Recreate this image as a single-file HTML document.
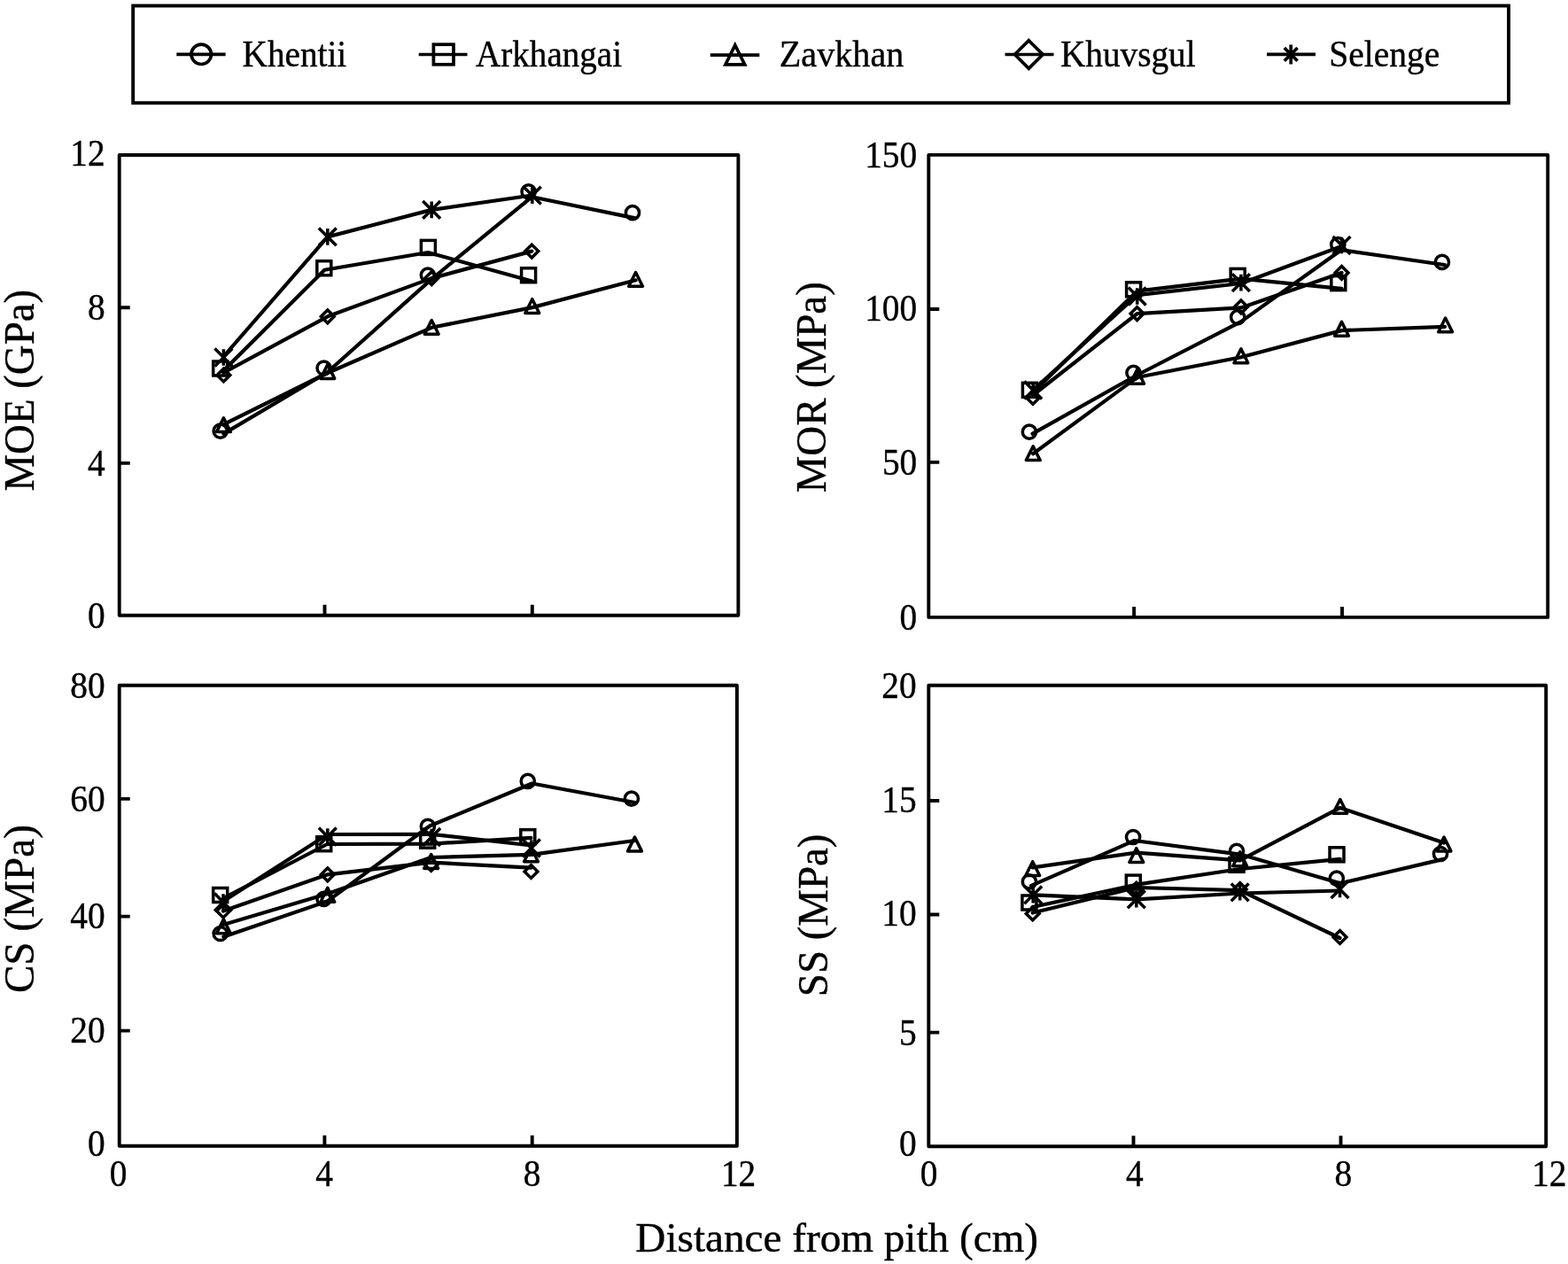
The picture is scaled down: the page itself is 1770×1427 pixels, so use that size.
<!DOCTYPE html>
<html lang="en"><head><meta charset="utf-8"><title>Mechanical properties vs distance from pith</title>
<style>
html,body{margin:0;padding:0;background:#fff;}
body{width:1770px;height:1427px;overflow:hidden;}
svg{display:block;font-family:"Liberation Serif","DejaVu Serif",serif;fill:#000;}
text{stroke:#000;stroke-width:0.4px;stroke-linejoin:round;}
.tl{font-size:42.3px;}
.lt{font-size:42.3px;}
.ax{font-size:47.8px;}
.ti{font-size:46.5px;}
.fr{fill:none;stroke:#000;stroke-width:3.9;stroke-linejoin:round;}
.ln{fill:none;stroke:#000;stroke-width:4.2;stroke-linejoin:round;stroke-linecap:round;}
.mk{fill:none;stroke:#000;stroke-width:3.5;stroke-linejoin:miter;}
.lb{fill:none;stroke:#000;stroke-width:3.9;stroke-linejoin:miter;}
.rj{stroke-linejoin:round;}
.lg{fill:none;stroke:#000;stroke-width:3.7;}
.lm{fill:none;stroke:#000;stroke-width:3.7;stroke-linejoin:miter;}
</style></head><body>
<svg width="1770" height="1427" viewBox="0 0 1770 1427" role="img" aria-label="Mechanical properties versus distance from pith for five provenances">
<rect width="1770" height="1427" fill="#fff"/>
<rect class="lb" x="150.2" y="6.5" width="1552.8" height="109.7"/>
<path class="lg" d="M199.3 61.3H254.6"/>
<g class="lm">
<circle cx="227.2" cy="61.3" r="11.2"/>
</g>
<text class="lt" transform="translate(273.6 74.9) scale(0.927 1)">Khentii</text>
<path class="lg" d="M472.7 61.5H527.5"/>
<g class="lm">
<rect x="489.4" y="50.2" width="22.6" height="22.6"/>
</g>
<text class="lt" transform="translate(537 74.9) scale(0.925 1)">Arkhangai</text>
<path class="lg" d="M801.8 62.1H857.3"/>
<g class="lm">
<path d="M829.8 51L840.7 72.8L818.9 72.8Z"/>
</g>
<text class="lt" transform="translate(879.8 74.9) scale(0.95 1)">Zavkhan</text>
<path class="lg" d="M1134.5 61.5H1189.5"/>
<g class="lm">
<path d="M1161.3 45.7L1177.1 61.5L1161.3 77.3L1145.5 61.5Z"/>
</g>
<text class="lt" transform="translate(1197 74.9) scale(0.928 1)">Khuvsgul</text>
<path class="lg" d="M1430 61.4H1485"/>
<g class="lm">
<path d="M1457.2 50.4V72.4M1449.8 54L1464.6 68.8M1449.8 68.8L1464.6 54"/>
</g>
<text class="lt" transform="translate(1500.3 74.9) scale(0.933 1)">Selenge</text>
<rect class="fr" x="134.7" y="175" width="698.7" height="519.7"/>
<path class="fr" d="M366.5 694.7V682.7M600.8 694.7V682.7M134.7 347.3H146.7M134.7 522.9H146.7"/>
<rect class="fr" x="1048.3" y="174.9" width="698.9" height="522"/>
<path class="fr" d="M1280.1 696.9V684.9M1515 696.9V684.9M1048.3 349H1060.3M1048.3 521.9H1060.3"/>
<rect class="fr" x="134.7" y="773.7" width="697.2" height="520"/>
<path class="fr" d="M366.4 1293.7V1281.7M600.7 1293.7V1281.7M134.7 901.9H146.7M134.7 1034.6H146.7M134.7 1163.6H146.7"/>
<rect class="fr" x="1048.3" y="773.7" width="696.9" height="520.5"/>
<path class="fr" d="M1279.5 1294.2V1282.2M1513.5 1294.2V1282.2M1048.3 904H1060.3M1048.3 1032.5H1060.3M1048.3 1165.6H1060.3"/>
<text class="tl" transform="translate(118.6 186.8) scale(0.93 1)" text-anchor="end">12</text>
<text class="tl" transform="translate(118.6 360.9) scale(0.93 1)" text-anchor="end">8</text>
<text class="tl" transform="translate(118.6 536.5) scale(0.93 1)" text-anchor="end">4</text>
<text class="tl" transform="translate(118.6 709.1) scale(0.93 1)" text-anchor="end">0</text>
<text class="tl" transform="translate(1035.2 189.1) scale(0.93 1)" text-anchor="end">150</text>
<text class="tl" transform="translate(1035.2 362) scale(0.93 1)" text-anchor="end">100</text>
<text class="tl" transform="translate(1035.2 536.1) scale(0.93 1)" text-anchor="end">50</text>
<text class="tl" transform="translate(1035.2 711.1) scale(0.93 1)" text-anchor="end">0</text>
<text class="tl" transform="translate(118.6 787.6) scale(0.93 1)" text-anchor="end">80</text>
<text class="tl" transform="translate(118.6 916.1) scale(0.93 1)" text-anchor="end">60</text>
<text class="tl" transform="translate(118.6 1047.6) scale(0.93 1)" text-anchor="end">40</text>
<text class="tl" transform="translate(118.6 1177.1) scale(0.93 1)" text-anchor="end">20</text>
<text class="tl" transform="translate(118.6 1305.1) scale(0.93 1)" text-anchor="end">0</text>
<text class="tl" transform="translate(1034.6 787.6) scale(0.93 1)" text-anchor="end">20</text>
<text class="tl" transform="translate(1034.6 916.6) scale(0.93 1)" text-anchor="end">15</text>
<text class="tl" transform="translate(1034.6 1045.3) scale(0.93 1)" text-anchor="end">10</text>
<text class="tl" transform="translate(1034.6 1180.2) scale(0.93 1)" text-anchor="end">5</text>
<text class="tl" transform="translate(1034.6 1305.1) scale(0.93 1)" text-anchor="end">0</text>
<text class="tl" transform="translate(133.5 1339.2) scale(0.93 1)" text-anchor="middle">0</text>
<text class="tl" transform="translate(366 1339.2) scale(0.93 1)" text-anchor="middle">4</text>
<text class="tl" transform="translate(600.5 1339.2) scale(0.93 1)" text-anchor="middle">8</text>
<text class="tl" transform="translate(833.6 1339.2) scale(0.93 1)" text-anchor="middle">12</text>
<text class="tl" transform="translate(1048.5 1339.2) scale(0.93 1)" text-anchor="middle">0</text>
<text class="tl" transform="translate(1280.8 1339.2) scale(0.93 1)" text-anchor="middle">4</text>
<text class="tl" transform="translate(1516.4 1339.2) scale(0.93 1)" text-anchor="middle">8</text>
<text class="tl" transform="translate(1748.8 1339.2) scale(0.93 1)" text-anchor="middle">12</text>
<text class="ti" transform="translate(944.7 1413.1) scale(1.015 1)" text-anchor="middle">Distance from pith (cm)</text>
<text class="ax" transform="translate(38.2 440.7) rotate(-90) scale(0.98 1)" text-anchor="middle">MOE (GPa)</text>
<text class="ax" transform="translate(932 437.3) rotate(-90) scale(0.98 1)" text-anchor="middle">MOR (MPa)</text>
<text class="ax" transform="translate(38.2 1026.1) rotate(-90) scale(0.987 1)" text-anchor="middle">CS (MPa)</text>
<text class="ax" transform="translate(933.6 1033.4) rotate(-90) scale(0.98 1)" text-anchor="middle">SS (MPa)</text>
<polyline class="ln" points="252.4,489.7 369.3,420.5 486.6,315.6 600.3,222.3 717.3,246.4"/>
<g class="mk">
<circle cx="248.7" cy="486.7" r="7.6"/>
<circle cx="365.6" cy="415.5" r="7.6"/>
<circle cx="482.9" cy="310.6" r="7.6"/>
<circle cx="596.6" cy="216.4" r="7.6"/>
<circle cx="714" cy="240.2" r="7.6"/>
</g>
<polyline class="ln" points="251.5,419.2 366.3,304.7 483.1,285 600.8,317.4"/>
<g class="mk">
<rect x="240.7" y="408" width="16" height="16"/>
<rect x="357.8" y="294.7" width="16" height="16"/>
<rect x="475.4" y="271.4" width="16" height="16"/>
<rect x="588.6" y="302.7" width="16" height="16"/>
</g>
<polyline class="ln" points="252.4,479.2 369.8,421 487.2,369.8 600.8,347.1 717.6,316.3"/>
<g class="mk">
<path class="rj" d="M252.4 471.8L260.3 487.6L244.5 487.6Z"/>
<path class="rj" d="M369.8 411.6L377.7 427.4L361.9 427.4Z"/>
<path class="rj" d="M487.2 361.5L495.1 377.3L479.3 377.3Z"/>
<path class="rj" d="M600.8 337.7L608.7 353.5L592.9 353.5Z"/>
<path class="rj" d="M717.6 307.5L725.5 323.3L709.7 323.3Z"/>
</g>
<polyline class="ln" points="252.4,420.8 369.8,357.3 487.2,314.1 600.3,283.6"/>
<g class="mk">
<path d="M252.4 416.1L259.8 423.5L252.4 430.9L245 423.5Z"/>
<path d="M369.8 349.9L377.2 357.3L369.8 364.7L362.4 357.3Z"/>
<path d="M487.2 306.7L494.6 314.1L487.2 321.5L479.8 314.1Z"/>
<path d="M600.3 276.2L607.7 283.6L600.3 291L592.9 283.6Z"/>
</g>
<polyline class="ln" points="252.4,402.5 369.8,267.4 487.2,236.9 600.8,220.5"/>
<g class="mk">
<path d="M252.4 394.2V412.8M242.5 393.6L262.3 413.4M242.5 413.4L262.3 393.6"/>
<path d="M369.8 258.1V276.7M359.9 257.5L379.7 277.3M359.9 277.3L379.7 257.5"/>
<path d="M487.2 227.6V246.2M477.3 227L497.1 246.8M477.3 246.8L497.1 227"/>
<path d="M600.8 211.3V229.9M590.9 210.7L610.7 230.5M590.9 230.5L610.7 210.7"/>
</g>
<polyline class="ln" points="1165.6,489.7 1283.5,423.5 1400.9,363.1 1514,282.2 1630.7,299"/>
<g class="mk">
<circle cx="1161.9" cy="487.7" r="7.6"/>
<circle cx="1279.5" cy="420.8" r="7.6"/>
<circle cx="1397.2" cy="358.1" r="7.6"/>
<circle cx="1510.3" cy="276.2" r="7.6"/>
<circle cx="1627.9" cy="295.9" r="7.6"/>
</g>
<polyline class="ln" points="1166.1,443 1283.5,328.7 1400.9,314.7 1514.5,325.9"/>
<g class="mk">
<rect x="1154.4" y="432.3" width="16" height="16"/>
<rect x="1271.6" y="318.8" width="16" height="16"/>
<rect x="1389.2" y="303.4" width="16" height="16"/>
<rect x="1502.8" y="311.6" width="16" height="16"/>
</g>
<polyline class="ln" points="1166.2,512.2 1283.6,426 1400.9,403.3 1514.5,373.1 1631,368.8"/>
<g class="mk">
<path class="rj" d="M1166.2 503.8L1174.1 519.6L1158.3 519.6Z"/>
<path class="rj" d="M1283.6 417.4L1291.5 433.2L1275.7 433.2Z"/>
<path class="rj" d="M1400.9 393.9L1408.8 409.7L1393 409.7Z"/>
<path class="rj" d="M1514.5 363.4L1522.4 379.2L1506.6 379.2Z"/>
<path class="rj" d="M1631.6 359L1639.5 374.8L1623.7 374.8Z"/>
</g>
<polyline class="ln" points="1166.2,446 1283.6,354.1 1400.9,347.4 1514.5,307.9"/>
<g class="mk">
<path d="M1166 441.5L1173.4 448.9L1166 456.3L1158.6 448.9Z"/>
<path d="M1283.6 346.7L1291 354.1L1283.6 361.5L1276.2 354.1Z"/>
<path d="M1400.9 339L1408.3 346.4L1400.9 353.8L1393.5 346.4Z"/>
<path d="M1514.5 300.5L1521.9 307.9L1514.5 315.3L1507.1 307.9Z"/>
</g>
<polyline class="ln" points="1166.2,440.5 1283.5,333.2 1400.9,320 1514.5,278"/>
<g class="mk">
<path d="M1166.2 431.2V449.8M1156.3 430.6L1176.1 450.4M1156.3 450.4L1176.1 430.6"/>
<path d="M1283.7 325.2V343.8M1273.8 324.6L1293.6 344.4M1273.8 344.4L1293.6 324.6"/>
<path d="M1400.9 309.8V328.4M1391 309.2L1410.8 329M1391 329L1410.8 309.2"/>
<path d="M1514.5 267.7V286.3M1504.6 267.1L1524.4 286.9M1504.6 286.9L1524.4 267.1"/>
</g>
<polyline class="ln" points="252.4,1057.5 369.3,1017.6 485,932.5 600.5,884.5 716.7,906"/>
<g class="mk">
<circle cx="248.7" cy="1054" r="7.6"/>
<circle cx="365.6" cy="1014.8" r="7.6"/>
<circle cx="482.9" cy="932.9" r="7.6"/>
<circle cx="595.8" cy="881.9" r="7.6"/>
<circle cx="712.9" cy="901.7" r="7.6"/>
</g>
<polyline class="ln" points="252.4,1014 369.3,953 486.6,952.6 599.5,945.9"/>
<g class="mk">
<rect x="240.7" y="1002.5" width="16" height="16"/>
<rect x="357.7" y="944.7" width="16" height="16"/>
<rect x="474.7" y="941.2" width="16" height="16"/>
<rect x="587.8" y="936.7" width="16" height="16"/>
</g>
<polyline class="ln" points="252.4,1043.8 369.8,1009 486.5,968 599.5,964.9 716.5,949"/>
<g class="mk">
<path class="rj" d="M252.4 1037.9L260.3 1053.7L244.5 1053.7Z"/>
<path class="rj" d="M369.8 1002.4L377.7 1018.2L361.9 1018.2Z"/>
<path class="rj" d="M486.7 964.6L494.6 980.4L478.8 980.4Z"/>
<path class="rj" d="M599.5 957L607.4 972.8L591.6 972.8Z"/>
<path class="rj" d="M716.5 945.1L724.4 960.9L708.6 960.9Z"/>
</g>
<polyline class="ln" points="252,1028.5 369.8,987.3 486.7,973.7 599.5,979.6"/>
<g class="mk">
<path d="M252 1021.1L259.4 1028.5L252 1035.9L244.6 1028.5Z"/>
<path d="M369.8 979.9L377.2 987.3L369.8 994.7L362.4 987.3Z"/>
<path d="M486.7 968.6L494.1 976L486.7 983.4L479.3 976Z"/>
<path d="M599.5 976.6L606.9 984L599.5 991.4L592.1 984Z"/>
</g>
<polyline class="ln" points="252,1017.5 369.8,942 487.2,941.8 600.3,954.5"/>
<g class="mk">
<path d="M252 1009.2V1027.8M242.1 1008.6L261.9 1028.4M242.1 1028.4L261.9 1008.6"/>
<path d="M369.8 935.2V953.8M359.9 934.6L379.7 954.4M359.9 954.4L379.7 934.6"/>
<path d="M487.2 935.7V954.3M477.3 935.1L497.1 954.9M477.3 954.9L497.1 935.1"/>
<path d="M599.8 948.2V966.8M589.9 947.6L609.7 967.4M589.9 967.4L609.7 947.6"/>
</g>
<polyline class="ln" points="1164,999.8 1280.5,949 1400.1,964.6 1513.2,997.2 1629.7,969.9"/>
<g class="mk">
<circle cx="1161.9" cy="995.4" r="7.6"/>
<circle cx="1279.1" cy="945" r="7.6"/>
<circle cx="1396" cy="960.8" r="7.6"/>
<circle cx="1508.8" cy="991.6" r="7.6"/>
<circle cx="1626" cy="964" r="7.6"/>
</g>
<polyline class="ln" points="1165.6,1024 1283,998.7 1400.1,981 1512.7,969.8"/>
<g class="mk">
<rect x="1153.9" y="1011" width="16" height="16"/>
<rect x="1271.3" y="988.1" width="16" height="16"/>
<rect x="1388" y="968.3" width="16" height="16"/>
<rect x="1501" y="956.8" width="16" height="16"/>
</g>
<polyline class="ln" points="1165.7,979.4 1282.8,962.6 1399.7,971.3 1512.8,911.9 1630,951.5"/>
<g class="mk">
<path class="rj" d="M1165.7 972.7L1173.6 988.5L1157.8 988.5Z"/>
<path class="rj" d="M1282.8 957.7L1290.7 973.5L1274.9 973.5Z"/>
<path class="rj" d="M1399.7 961.9L1407.6 977.7L1391.8 977.7Z"/>
<path class="rj" d="M1512.8 902.5L1520.7 918.3L1504.9 918.3Z"/>
<path class="rj" d="M1630 945.1L1637.9 960.9L1622.1 960.9Z"/>
</g>
<polyline class="ln" points="1165.7,1030.5 1282.8,1002 1399.7,1005.2 1512.5,1059"/>
<g class="mk">
<path d="M1165.7 1024L1173.1 1031.4L1165.7 1038.8L1158.3 1031.4Z"/>
<path d="M1282.8 996.3L1290.2 1003.7L1282.8 1011.1L1275.4 1003.7Z"/>
<path d="M1399.7 996.6L1407.1 1004L1399.7 1011.4L1392.3 1004Z"/>
<path d="M1512.5 1050.6L1519.9 1058L1512.5 1065.4L1505.1 1058Z"/>
</g>
<polyline class="ln" points="1166.2,1010.3 1282.8,1015.3 1399.7,1008.5 1512.5,1005.5"/>
<g class="mk">
<path d="M1166.2 1001V1019.6M1156.3 1000.4L1176.1 1020.2M1156.3 1020.2L1176.1 1000.4"/>
<path d="M1282.8 1006V1024.6M1272.9 1005.4L1292.7 1025.2M1272.9 1025.2L1292.7 1005.4"/>
<path d="M1399.7 998V1016.6M1389.8 997.4L1409.6 1017.2M1389.8 1017.2L1409.6 997.4"/>
<path d="M1512.5 994.7V1013.3M1502.6 994.1L1522.4 1013.9M1502.6 1013.9L1522.4 994.1"/>
</g>
</svg>
</body></html>
